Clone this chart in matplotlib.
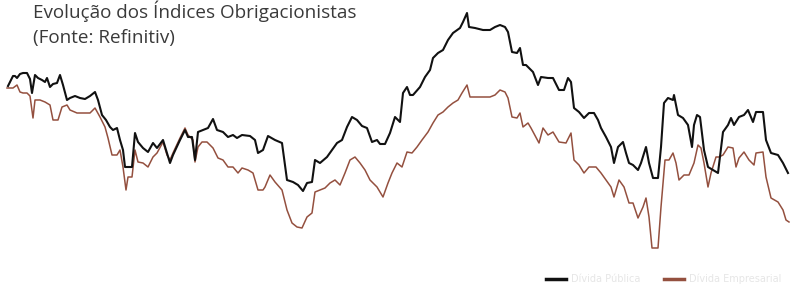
import matplotlib.pyplot as plt
from matplotlib.lines import Line2D

# Index levels (arbitrary units, higher = better)
black_x = [8, 13, 15, 17, 20, 23, 27, 30, 32, 35, 38, 42, 45, 47, 50, 53, 57, 60, 63, 67,
           70, 75, 80, 85, 90, 95, 98, 102, 106, 110, 113, 117, 120, 123, 125, 130, 132, 135,
           138, 143, 148, 153, 157, 163, 167, 170, 173, 180, 185, 188, 192, 195, 198, 203,
           208, 213, 217, 223, 228, 233, 237, 242, 250, 255, 258, 263, 268, 275, 282, 287,
           293, 298, 303, 307, 312, 315, 320, 327, 332, 337, 342, 347, 352, 357, 362, 367,
           372, 377, 380, 385, 390, 395, 400, 403, 407, 410, 413, 420, 425, 430, 433, 438,
           443, 448, 453, 460, 463, 467, 469, 475, 483, 490, 495, 500, 505, 508, 512, 517,
           520, 523, 526, 533, 538, 541, 548, 553, 559, 564, 568, 571, 574, 579, 584, 589,
           594, 598, 601, 606, 611, 614, 618, 623, 626, 629, 633, 638, 641, 646, 649, 653,
           658, 661, 664, 668, 673, 674, 678, 683, 688, 692, 694, 697, 700, 704, 708, 713,
           718, 723, 728, 731, 734, 739, 744, 748, 753, 756, 763, 766, 771, 778, 783, 788]
black_y = [199, 209, 209, 207, 211, 212, 212, 206, 192, 210, 207, 205, 203, 207, 198, 201, 202, 210, 200, 185,
           187, 189, 187, 186, 189, 193, 185, 170, 165, 158, 155, 157, 145, 135, 118, 118, 118, 152,
           143, 137, 133, 142, 137, 145, 132, 122, 130, 145, 155, 148, 148, 125, 153, 155,
           157, 166, 155, 153, 148, 150, 147, 150, 149, 145, 132, 135, 149, 145, 142, 105,
           103, 100, 94, 102, 103, 125, 122, 128, 135, 142, 145, 158, 168, 165, 159, 157,
           143, 145, 141, 141, 152, 168, 163, 192, 198, 190, 190, 198, 208, 215, 227, 232,
           235, 245, 252, 257, 263, 272, 258, 257, 255, 255, 258, 260, 258, 253, 233, 232,
           237, 220, 220, 213, 200, 208, 207, 207, 195, 195, 207, 203, 177, 173, 167, 172,
           172, 165, 157, 148, 138, 122, 138, 143, 132, 122, 120, 115, 122, 138, 122, 107,
           107, 138, 182, 187, 185, 190, 170, 167, 160, 138, 160, 170, 168, 135, 118, 115,
           112, 153, 160, 167, 160, 168, 170, 175, 163, 173, 173, 145, 132, 130, 122, 112]

brown_x = [7, 13, 17, 20, 23, 27, 30, 33, 35, 40, 45, 50, 53, 58, 62, 67, 70, 77, 83, 90,
           95, 100, 105, 108, 112, 117, 120, 123, 126, 128, 132, 135, 138, 143, 148, 153,
           157, 163, 167, 170, 173, 180, 185, 188, 193, 195, 198, 202, 207, 213, 218, 223,
           228, 233, 238, 242, 248, 253, 258, 263, 265, 270, 275, 282, 287, 292, 297, 302,
           307, 312, 315, 320, 325, 330, 335, 340, 345, 350, 355, 360, 365, 370, 377, 383,
           388, 392, 397, 402, 407, 412, 417, 422, 428, 433, 438, 443, 448, 453, 458, 462,
           467, 470, 475, 482, 490, 495, 500, 505, 508, 512, 517, 520, 523, 528, 531, 539,
           543, 548, 553, 559, 566, 571, 574, 579, 584, 589, 596, 601, 606, 611, 614, 619,
           624, 629, 633, 638, 643, 646, 649, 652, 658, 661, 665, 669, 673, 676, 679, 684,
           689, 694, 698, 701, 704, 708, 711, 716, 719, 723, 728, 733, 736, 739, 744, 749,
           754, 756, 763, 766, 771, 778, 783, 786, 789]
brown_y = [197, 197, 200, 193, 192, 192, 189, 167, 185, 185, 183, 180, 165, 165, 178, 180, 175, 172, 172, 172,
           177, 168, 158, 147, 130, 130, 135, 118, 95, 108, 108, 135, 123, 122, 118, 128,
           132, 143, 130, 125, 132, 147, 157, 150, 145, 123, 138, 143, 143, 137, 127, 125,
           118, 118, 112, 117, 115, 112, 95, 95, 98, 110, 103, 95, 75, 62, 58, 57,
           68, 72, 93, 95, 97, 102, 105, 100, 112, 125, 128, 122, 115, 105, 98, 88,
           102, 112, 122, 118, 133, 132, 138, 145, 153, 162, 170, 173, 178, 182, 185, 192,
           200, 188, 188, 188, 188, 190, 195, 193, 187, 168, 167, 172, 158, 162, 157, 142,
           157, 150, 153, 143, 142, 152, 125, 120, 112, 118, 118, 112, 105, 98, 88, 105,
           98, 82, 82, 67, 78, 87, 68, 37, 37, 78, 125, 125, 132, 122, 105, 110,
           110, 122, 140, 137, 122, 98, 112, 128, 128, 130, 138, 137, 118, 127, 133, 125,
           120, 132, 133, 108, 87, 83, 75, 65, 63]

series_labels = ["Dívida Pública", "Dívida Empresarial"]
title_lines = ["Evolução dos Índices Obrigacionistas", "(Fonte: Refinitiv)"]

BLACK = "#111111"
BROWN = "#94503f"
TEXT = "#3a3a3a"

fig = plt.figure(figsize=(7.96, 2.85), dpi=100)
ax = fig.add_axes([0, 0, 1, 1])
ax.plot(brown_x, brown_y, color=BROWN, lw=1.1, zorder=2)
ax.plot(black_x, black_y, color=BLACK, lw=1.5, zorder=3)
ax.set_xlim(0, 796)
ax.set_ylim(0, 285)
ax.axis("off")

fig.text(33 / 796, 1 - 18 / 285, title_lines[0], family="Open Sans", fontsize=13.6,
         color=TEXT, va="baseline", ha="left")
fig.text(33 / 796, 1 - 43 / 285, title_lines[1], family="Open Sans", fontsize=13.6,
         color=TEXT, va="baseline", ha="left")

handles = [Line2D([], [], color=BLACK, lw=2.5), Line2D([], [], color=BROWN, lw=2.5)]
fig.legend(handles, series_labels, loc="center left", bbox_to_anchor=(546 / 796, 6 / 285),
           ncol=2, frameon=False, fontsize=7, handlelength=2.1, handletextpad=0.5,
           columnspacing=2.4, borderpad=0, borderaxespad=0, labelcolor="#e6e6e6")

fig.savefig("out.png", dpi=100)
